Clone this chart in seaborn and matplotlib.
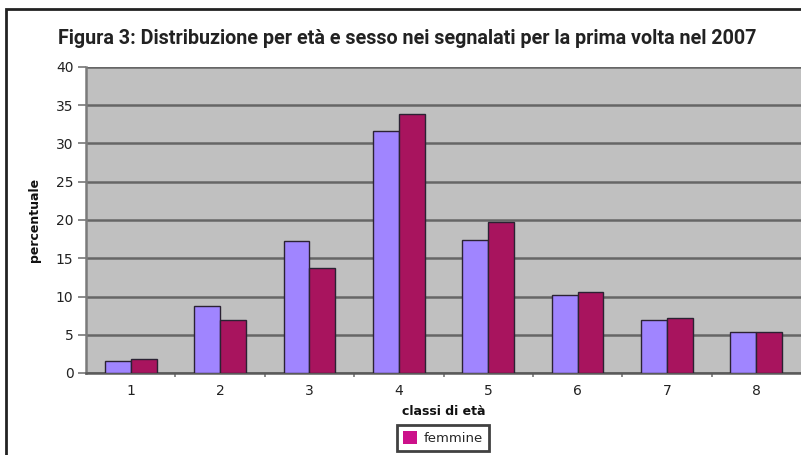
import matplotlib
matplotlib.use("Agg")
import matplotlib.pyplot as plt
import seaborn as sns
import pandas as pd
from matplotlib.patches import Patch, Rectangle

# Age classes and percentage of first-time reports in 2007 by sex
classi = ["1", "2", "3", "4", "5", "6", "7", "8"]
maschi = [1.6, 8.7, 17.3, 31.6, 17.4, 10.2, 6.9, 5.3]
femmine = [1.8, 6.9, 13.7, 33.9, 19.7, 10.6, 7.2, 5.3]
y_ticks = [0, 5, 10, 15, 20, 25, 30, 35, 40]

df = pd.DataFrame({
    "classe": classi * 2,
    "sesso": ["maschi"] * len(classi) + ["femmine"] * len(classi),
    "percentuale": maschi + femmine,
})

sns.set_theme(style="white")
plt.rcParams["font.family"] = ["DejaVu Sans"]

fig = plt.figure(figsize=(8.01, 4.55), dpi=100)
ax = fig.add_axes([86 / 801, 1 - 373 / 455, 1 - 86 / 801, (373 - 67) / 455])
ax.set_facecolor("#c0c0c0")

palette = {"maschi": "#a085ff", "femmine": "#a8145e"}
sns.barplot(data=df, x="classe", y="percentuale", hue="sesso",
            hue_order=["maschi", "femmine"], palette=palette,
            width=0.58, edgecolor="#2b2233", linewidth=1.0,
            saturation=1, ax=ax, legend=False, zorder=3)

ax.set_ylim(0, 40)
ax.set_xlim(-0.5, len(classi) - 0.5)
ax.set_yticks(y_ticks)
ax.yaxis.grid(True, color="#666666", linewidth=1.8, zorder=1)
ax.set_axisbelow(True)

# category separators as minor ticks on the x axis
ax.set_xticks([i + 0.5 for i in range(len(classi) - 1)], minor=True)
ax.tick_params(axis="x", which="major", length=0, pad=8, labelsize=10, colors="#222222")
ax.tick_params(axis="x", which="minor", length=3, width=1.2, color="#777777", direction="out", bottom=True)
ax.tick_params(axis="y", which="major", length=6, width=1.2, color="#777777", direction="out",
               left=True, pad=3, labelsize=10, labelcolor="#222222")

for side in ["top", "right"]:
    ax.spines[side].set_visible(False)
ax.spines["left"].set_color("#7a7a7a")
ax.spines["left"].set_linewidth(1.8)
ax.spines["bottom"].set_color("#5a5a5a")
ax.spines["bottom"].set_linewidth(1.8)

ax.set_xlabel("classi di età", fontsize=9, fontweight="bold", labelpad=5, color="#111111")
ax.set_ylabel("percentuale", fontsize=9, fontweight="bold", labelpad=11, color="#111111")

fig.text(407 / 801, 1 - 39 / 455,
         "Figura 3: Distribuzione per età e sesso nei segnalati per la prima volta nel 2007",
         ha="center", va="center", fontsize=14.2, fontweight="bold", color="#222222",
         family=["Roboto", "DejaVu Sans"])

# outer frame of the figure panel
fig.patches.append(Rectangle((6 / 801, -0.05), 1.1, 1 - 9 / 455 + 0.05,
                             transform=fig.transFigure, fill=False,
                             edgecolor="#222222", linewidth=2, clip_on=False))

leg = fig.legend(handles=[Patch(facecolor="#cc118a", edgecolor="none")], labels=["femmine"],
                 loc="center", bbox_to_anchor=(443 / 801, 1 - 438 / 455),
                 frameon=True, fancybox=False, fontsize=9.5, handlelength=1.1, handleheight=1.1,
                 handletextpad=0.5, borderpad=0.45, borderaxespad=0)
leg.get_frame().set_edgecolor("#111111")
leg.get_frame().set_linewidth(2)

fig.savefig("out.png", dpi=100)
